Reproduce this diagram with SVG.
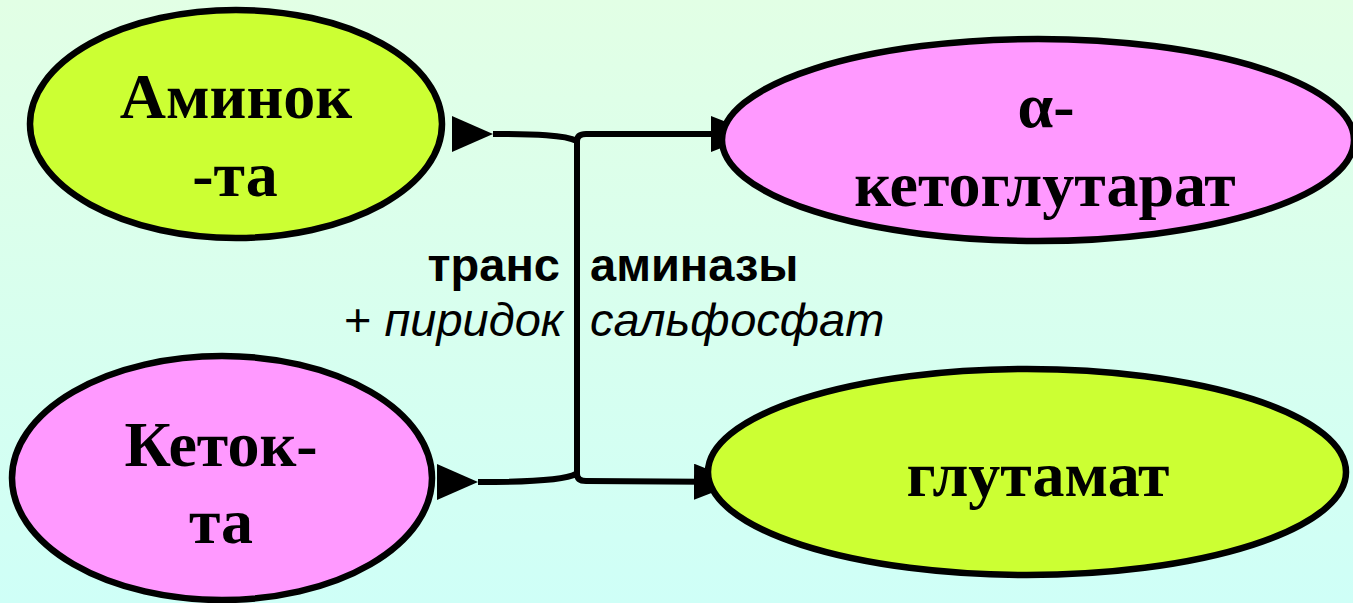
<svg xmlns="http://www.w3.org/2000/svg" width="1353" height="603" viewBox="0 0 1353 603">
<defs>
<linearGradient id="bg" x1="0" y1="0" x2="0" y2="1">
<stop offset="0" stop-color="#E2FFE5"/>
<stop offset="1" stop-color="#CFFFF7"/>
</linearGradient>
<marker id="tail" markerUnits="userSpaceOnUse" viewBox="0 0 41 36" refX="41" refY="18" markerWidth="41" markerHeight="36" orient="auto">
<polygon points="0,0 41,18 0,36" fill="#000"/>
</marker>
<marker id="head" markerUnits="userSpaceOnUse" viewBox="0 0 46 36" refX="46" refY="18" markerWidth="46" markerHeight="36" orient="auto">
<polygon points="0,0 46,18 0,36" fill="#000"/>
</marker>
<style>
.node{stroke:#000;stroke-width:6.5}
.yg{fill:#CCFF33}
.pk{fill:#FF99FF}
.big{font-family:"Liberation Serif","Times New Roman",serif;font-weight:bold;font-size:64px;fill:#000;text-anchor:middle}
.lab{font-family:"Liberation Sans",Arial,sans-serif;font-size:47px;fill:#000}
.con{fill:none;stroke:#000;stroke-width:6}
</style>
</defs>
<rect width="1353" height="603" fill="url(#bg)"/>
<g id="connectors">
<path class="con" d="M493,134 C535,134 565,135 577,141" marker-start="url(#tail)"/>
<path class="con" d="M577,141 Q577,134 586,134 L757,134" marker-end="url(#head)"/>
<path class="con" d="M577,138 L577,478"/>
<path class="con" d="M478,482 C525,482 565,480 576,474" marker-start="url(#tail)"/>
<path class="con" d="M577,474 Q577,481 586,481 L740,482" marker-end="url(#head)"/>
</g>
<g id="node-aminok">
<ellipse class="node yg" cx="236" cy="124" rx="206" ry="114"/>
<text class="big" x="236" y="118">Аминок</text>
<text class="big" x="235" y="196">-та</text>
</g>
<g id="node-ketoglutarat">
<ellipse class="node pk" cx="1038" cy="140" rx="316" ry="101"/>
<text class="big" x="1046" y="127">α-</text>
<text class="big" x="1045" y="206">кетоглутарат</text>
</g>
<g id="node-ketok">
<ellipse class="node pk" cx="222" cy="478" rx="210" ry="122"/>
<text class="big" x="221" y="466">Кеток-</text>
<text class="big" x="221" y="543">та</text>
</g>
<g id="node-glutamat">
<ellipse class="node yg" cx="1027" cy="472" rx="319" ry="103"/>
<text class="big" x="1038" y="496">глутамат</text>
</g>
<g id="label">
<text class="lab" x="560" y="281" text-anchor="end" font-weight="bold">транс</text>
<text class="lab" x="590" y="281" font-weight="bold">аминазы</text>
<text class="lab" x="563" y="336" text-anchor="end">+ <tspan font-style="italic">пиридок</tspan></text>
<text class="lab" x="590" y="336" font-style="italic">сальфосфат</text>
</g>
</svg>
